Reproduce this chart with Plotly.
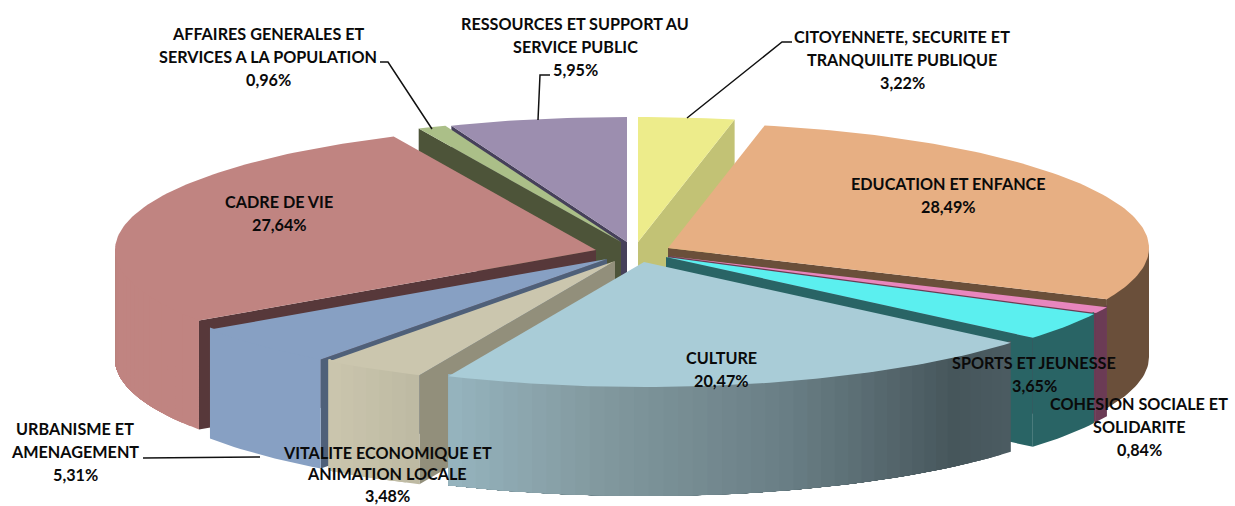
import math
import plotly.graph_objects as go

# ---- data (clockwise from 12 o'clock) ----
categories = ["CITOYENNETE, SECURITE ET TRANQUILITE PUBLIQUE", "EDUCATION ET ENFANCE",
              "COHESION SOCIALE ET SOLIDARITE", "SPORTS ET JEUNESSE", "CULTURE",
              "VITALITE ECONOMIQUE ET ANIMATION LOCALE", "URBANISME ET AMENAGEMENT",
              "CADRE DE VIE", "AFFAIRES GENERALES ET SERVICES A LA POPULATION",
              "RESSOURCES ET SUPPORT AU SERVICE PUBLIC"]
values = [3.22, 28.49, 0.84, 3.65, 20.47, 3.48, 5.31, 27.64, 0.96, 5.95]

# ---- styling ----
RX, RY, DEPTH = 481, 125, 109
apex = [(638, 242), (668, 248), (668, 256), (666, 257), (644, 262),
        (615, 261), (607, 259), (596, 250), (621, 242), (627, 242)]
top_col = ["#EDEC8B", "#E7AF83", "#E886BE", "#5BEFEF", "#A9CCD7",
           "#CBC6AE", "#87A0C3", "#C08481", "#ABBF88", "#9C8EAF"]
side_col = ["#C2C275", "#6A4F3A", "#6B3B55", "#296465", "#46565B",
            "#928F7B", "#4F6079", "#57383A", "#4D5439", "#46405A"]
wall_stops = [
    [(0, "#C2C275"), (1, "#C2C275")],
    [(0, "#6A4F3A"), (1, "#6A4F3A")],
    [(0, "#6B3B55"), (1, "#6B3B55")],
    [(0, "#296465"), (1, "#296465")],
    [(0, "#4C5C62"), (0.13, "#46565B"), (0.45, "#6A7F86"), (0.75, "#82999F"), (1, "#96B4BE")],
    [(0, "#BDB9A2"), (1, "#CBC6AE")],
    [(0, "#87A0C3"), (1, "#87A0C3")],
    [(0, "#C08481"), (0.8, "#C08481"), (1, "#B8807C")],
    [(0, "#4D5439"), (1, "#4D5439")],
    [(0, "#46405A"), (1, "#46405A")],
]
paint_order = [9, 8, 0, 1, 7, 2, 3, 6, 5, 4]


def hex2rgb(h):
    return tuple(int(h[i:i + 2], 16) for i in (1, 3, 5))


def mix(stops, t):
    for (a, ca), (b, cb) in zip(stops, stops[1:]):
        if t <= b:
            f = (t - a) / (b - a) if b > a else 0
            ra, rb = hex2rgb(ca), hex2rgb(cb)
            return "rgb(%d,%d,%d)" % tuple(round(x + (y - x) * f) for x, y in zip(ra, rb))
    return stops[-1][1]


def rim(c, th, dz=0):
    return c[0] + RX * math.sin(th), c[1] - RY * math.cos(th) + dz


fig = go.Figure()


def poly(pts, color):
    xs = [p[0] for p in pts] + [pts[0][0]]
    ys = [p[1] for p in pts] + [pts[0][1]]
    fig.add_trace(go.Scatter(x=xs, y=ys, mode="lines", fill="toself", fillcolor=color,
                             line=dict(color=color, width=0), hoverinfo="skip",
                             showlegend=False))


total = sum(values)
bounds = [0]
for v in values:
    bounds.append(bounds[-1] + v / total * 2 * math.pi)

for i in paint_order:
    c, a0, a1 = apex[i], bounds[i], bounds[i + 1]
    # radial cut faces facing the viewer
    if math.sin(a0) < 0:
        p = rim(c, a0)
        poly([c, p, (p[0], p[1] + DEPTH), (c[0], c[1] + DEPTH)], side_col[i])
    if math.sin(a1) > 0:
        p = rim(c, a1)
        poly([c, p, (p[0], p[1] + DEPTH), (c[0], c[1] + DEPTH)], side_col[i])
    # outer wall, front half only: each strip runs to the wall's far end and the
    # next one paints over it, so no seams appear between the shading steps;
    # the wall starts 2px under the top face so the two overlap
    w0, w1 = max(a0, math.pi / 2), min(a1, 3 * math.pi / 2)
    if w1 > w0:
        single = len(set(s[1] for s in wall_stops[i])) == 1
        n = 1 if single else max(2, int((w1 - w0) / 0.03))
        for k in range(n):
            t0 = w0 + (w1 - w0) * k / n
            steps = max(3, int((w1 - t0) / 0.02))
            ts = [t0 + (w1 - t0) * j / steps for j in range(steps + 1)]
            pts = [rim(c, t, -2) for t in ts] + [rim(c, t, DEPTH) for t in reversed(ts)]
            poly(pts, mix(wall_stops[i], (k + 0.5) / n))
    # top
    m = max(3, int((a1 - a0) / 0.02))
    poly([c] + [rim(c, a0 + (a1 - a0) * j / m) for j in range(m + 1)], top_col[i])

# ---- leader lines ----
leaders = [
    [(380, 62), (388, 62), (432, 129)],
    [(550, 75), (540, 75), (538, 120)],
    [(792, 42), (782, 42), (687, 118)],
    [(143, 458), (260, 457)],
]
for L in leaders:
    fig.add_trace(go.Scatter(x=[p[0] for p in L], y=[p[1] for p in L], mode="lines",
                             line=dict(color="#111111", width=1.5), hoverinfo="skip",
                             showlegend=False))

# ---- labels ----
labels = [
    (268, 33, 23.2, ["AFFAIRES GENERALES ET", "SERVICES A LA POPULATION", "0,96%"]),
    (575, 23, 23.2, ["RESSOURCES ET SUPPORT AU", "SERVICE PUBLIC", "5,95%"]),
    (902, 36, 23.2, ["CITOYENNETE, SECURITE ET", "TRANQUILITE PUBLIQUE", "3,22%"]),
    (948, 183, 23.2, ["EDUCATION ET ENFANCE", "28,49%"]),
    (279, 201, 23.2, ["CADRE DE VIE", "27,64%"]),
    (721, 357, 23.2, ["CULTURE", "20,47%"]),
    (1034, 362, 23.2, ["SPORTS ET JEUNESSE", "3,65%"]),
    (1139, 403, 23.2, ["COHESION SOCIALE ET", "SOLIDARITE", "0,84%"]),
    (75, 428, 23.2, ["URBANISME ET", "AMENAGEMENT", "5,31%"]),
    (387, 452, 21.5, ["VITALITE ECONOMIQUE ET", "ANIMATION LOCALE", "3,48%"]),
]
annots = []
for x, y, gap, lines in labels:
    for k, t in enumerate(lines):
        annots.append(dict(x=x, y=y + k * gap, xref="x", yref="y", text=t, showarrow=False,
                           xanchor="center", yanchor="middle",
                           font=dict(family="Lato", size=16.2, color="#0A0A0A", weight=700)))

fig.update_layout(
    width=1235, height=506, margin=dict(l=0, r=0, t=0, b=0),
    paper_bgcolor="white", plot_bgcolor="white", showlegend=False, annotations=annots,
    xaxis=dict(range=[0, 1235], visible=False, fixedrange=True),
    yaxis=dict(range=[506, 0], visible=False, fixedrange=True),
)
fig.write_html("out.html", config={"displayModeBar": False},
               post_script="document.body.style.margin='0';document.body.style.overflow='hidden';")
